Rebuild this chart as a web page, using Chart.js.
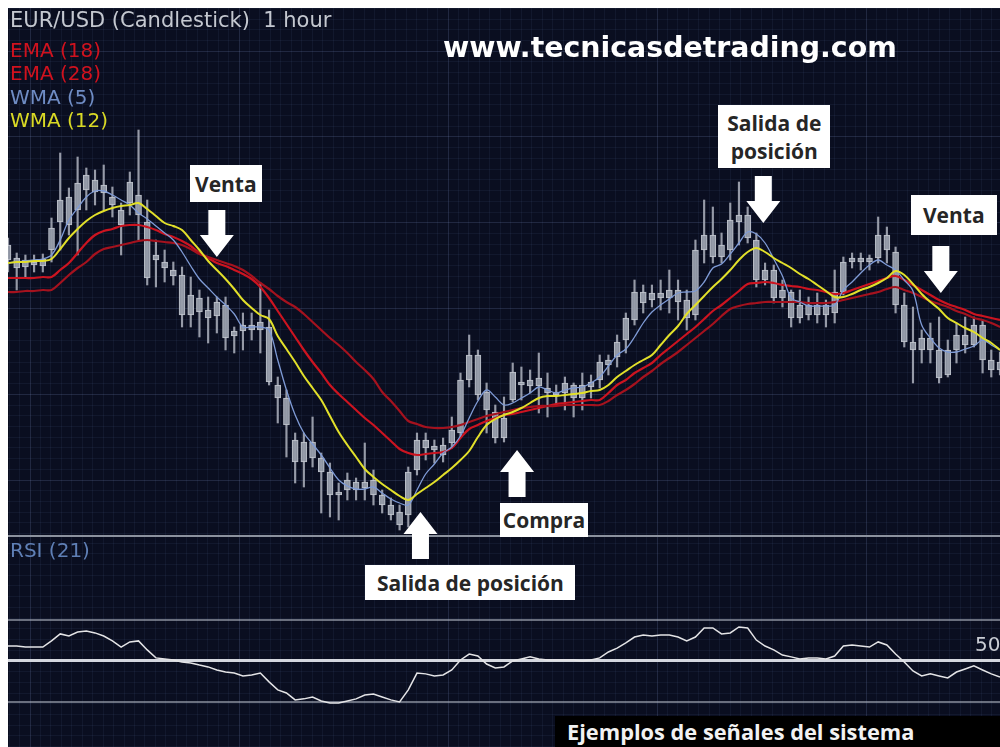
<!DOCTYPE html>
<html>
<head>
<meta charset="utf-8">
<title>EUR/USD - señales del sistema</title>
<script src="https://cdn.jsdelivr.net/npm/chart.js@4.4.1/dist/chart.umd.min.js"></script>
<style>
  html, body { margin: 0; padding: 0; background: #fff; }
  #frame { position: absolute; left: 8px; top: 8px; width: 992px; height: 739px; background: #0a0e20; overflow: hidden; }
  #frame canvas { position: absolute; left: 0; }
  #rsi { top: 527px; }
  #main { top: 0; }
  .t { position: absolute; white-space: pre; font-family: "DejaVu Sans", sans-serif; font-size: 20px; line-height: 20px; }
  #head { left: 2px; top: 2px; color: #c4c8d0; font-size: 21px; line-height: 21px; }
  #site { left: 435px; top: 26px; color: #fff; font-weight: bold; font-size: 28.4px; line-height: 28px; }
  #rsiTitle { left: 2px; top: 532px; color: #5f7fb5; }
  #lvl50 { left: 967px; top: 626px; color: #c9ccd3; }
  #caption { position: absolute; left: 547px; top: 708px; width: 445px; height: 31px; background: #000; color: #f2f2f2;
             font: 700 21.8px/31px "Open Sans", sans-serif; padding-left: 12px; box-sizing: border-box; white-space: nowrap; }
  .sig { position: absolute; background: #fff; color: #262626; font: 700 21px/28px "Open Sans", sans-serif;
         display: flex; align-items: center; justify-content: center; text-align: center; white-space: pre-line; }
</style>
</head>
<body>
<div id="frame">
  <canvas id="rsi" width="992" height="212"></canvas>
  <canvas id="main" width="992" height="739"></canvas>
  <div class="t" id="head">EUR/USD (Candlestick)  1 hour</div>
  <div class="t" id="site">www.tecnicasdetrading.com</div>
  <div class="t" id="rsiTitle">RSI (21)</div>
  <div class="t" id="lvl50">50</div>
  <div id="caption">Ejemplos de señales del sistema</div>
</div>
<script>
// velas (1 hora), precio en unidades de la escala del panel
const candleOpen = [
  275, 277, 268, 273, 269, 285, 313, 310, 325, 345,
  355, 342, 338, 325, 332, 340, 313, 280, 273, 265,
  260, 220, 237, 225, 219, 230, 199, 204, 210, 205,
  208, 150, 137, 95, 73, 93, 77, 63, 40, 45,
  53, 47, 55, 40, 30, 23, 20, 65, 95, 85,
  80, 92, 102, 155, 180, 143, 123, 97, 135, 150,
  155, 149, 147, 140, 142, 150, 137, 148, 155, 170,
  178, 195, 215, 243, 235, 242, 237, 245, 235, 220,
  285, 300, 278, 285, 313, 320, 295, 255, 265, 237,
  243, 217, 230, 220, 230, 222, 243, 273, 277, 273,
  277, 300, 283, 230, 193, 185, 197, 185, 160, 185,
  200, 190, 210, 175, 165
];
const candleHigh = [
  297, 282, 280, 280, 281, 317, 382, 347, 378, 367,
  365, 370, 348, 332, 363, 405, 335, 295, 285, 273,
  268, 258, 245, 238, 238, 238, 208, 222, 222, 252,
  225, 158, 145, 102, 102, 118, 82, 72, 52, 62,
  57, 92, 65, 45, 37, 30, 68, 102, 102, 95,
  97, 118, 162, 200, 185, 152, 130, 138, 172, 168,
  165, 182, 162, 150, 158, 152, 162, 160, 180, 180,
  200, 222, 255, 250, 250, 255, 265, 255, 245, 295,
  335, 328, 302, 332, 353, 328, 302, 272, 270, 255,
  245, 245, 238, 242, 235, 265, 278, 282, 282, 280,
  318, 308, 288, 242, 228, 205, 212, 218, 195, 212,
  218, 218, 215, 185, 183
];
const candleLow = [
  263, 245, 258, 263, 263, 273, 285, 300, 280, 325,
  330, 325, 318, 280, 320, 295, 250, 248, 253, 250,
  208, 208, 198, 192, 202, 185, 182, 185, 195, 182,
  150, 112, 78, 52, 48, 68, 22, 18, 15, 35,
  35, 35, 30, 22, 15, 5, 8, 60, 75, 72,
  73, 87, 98, 148, 135, 102, 92, 93, 133, 135,
  142, 122, 118, 130, 125, 118, 125, 137, 147, 160,
  168, 182, 210, 222, 228, 225, 222, 215, 205, 215,
  272, 272, 272, 275, 290, 292, 248, 250, 232, 228,
  208, 212, 215, 212, 208, 212, 240, 267, 265, 265,
  272, 272, 222, 188, 152, 172, 172, 152, 158, 172,
  182, 188, 162, 158, 160
];
const candleClose = [
  290, 267, 275, 270, 276, 307, 335, 338, 352, 360,
  343, 350, 330, 310, 353, 320, 257, 275, 267, 259,
  220, 240, 223, 217, 233, 197, 204, 210, 205, 213,
  153, 137, 110, 73, 93, 77, 63, 40, 43, 55,
  45, 53, 40, 30, 20, 10, 63, 95, 87, 89,
  90, 105, 155, 180, 140, 125, 97, 117, 163, 153,
  149, 157, 142, 143, 152, 137, 150, 153, 173, 175,
  193, 217, 243, 232, 242, 237, 245, 233, 217, 285,
  300, 278, 290, 315, 320, 297, 255, 265, 237, 245,
  217, 230, 220, 230, 220, 243, 273, 277, 273, 277,
  300, 285, 230, 193, 185, 197, 185, 157, 185, 200,
  190, 210, 175, 165, 173
];

// medias moviles
const ema18 = [
  257, 257, 257, 257, 258, 258, 265, 272, 282, 292,
  300, 304, 306, 309, 310, 310, 308, 305, 301, 298,
  294, 289, 282, 277, 272, 269, 265, 261, 256, 248,
  237, 224, 211, 198, 185, 173, 162, 150, 141, 133,
  125, 117, 110, 102, 94, 86, 82, 80, 81, 82,
  83, 87, 97, 106, 110, 114, 117, 120, 121, 123,
  125, 127, 129, 131, 132, 133, 134, 135, 135, 142,
  150, 155, 162, 167, 172, 180, 187, 194, 201, 208,
  216, 224, 230, 237, 244, 251, 252, 253, 252, 250,
  249, 248, 246, 245, 243, 241, 242, 245, 248, 251,
  254, 257, 259, 255, 250, 245, 240, 235, 231, 228,
  225, 221, 219, 217, 215
];
const ema28 = [
  243, 243, 244, 244, 245, 245, 252, 260, 267, 273,
  281, 286, 288, 290, 292, 294, 295, 294, 293, 292,
  290, 286, 281, 278, 275, 272, 269, 265, 259, 252,
  246, 239, 233, 228, 221, 213, 205, 197, 190, 182,
  173, 165, 156, 143, 134, 124, 114, 111, 108, 107,
  107, 108, 110, 113, 116, 119, 121, 123, 125, 127,
  128, 129, 129, 129, 130, 130, 130, 130, 130, 134,
  140, 145, 151, 158, 164, 171, 177, 183, 190, 197,
  204, 211, 219, 226, 229, 231, 232, 233, 233, 233,
  233, 233, 232, 232, 232, 233, 235, 237, 239, 241,
  243, 246, 248, 245, 242, 238, 234, 231, 228, 224,
  221, 217, 215, 212, 208
];
const wma5 = [
  272, 273, 274, 275, 276, 280, 295, 315, 327, 338,
  344, 344, 340, 335, 330, 322, 316, 309, 302, 295,
  283, 269, 256, 247, 238, 230, 221, 208, 208, 208,
  205, 175, 145, 120, 102, 91, 80, 67, 55, 49,
  46, 46, 48, 42, 36, 32, 30, 45, 61, 71,
  82, 88, 99, 117, 134, 145, 138, 130, 132, 137,
  142, 148, 145, 142, 145, 147, 148, 152, 158, 169,
  180, 186, 198, 212, 223, 230, 236, 242, 243, 244,
  253, 267, 271, 281, 292, 303, 301, 292, 276, 259,
  237, 233, 229, 229, 229, 230, 245, 253, 262, 270,
  275, 270, 265, 255, 244, 210, 197, 187, 183, 183,
  186, 189, 195, 190, 185
];
const wma12 = [
  272, 273, 273, 274, 274, 276, 286, 297, 306, 314,
  320, 324, 327, 329, 330, 332, 326, 319, 312, 309,
  305, 295, 285, 274, 265, 256, 246, 235, 227, 220,
  216, 199, 186, 173, 159, 147, 135, 119, 103, 90,
  78, 66, 58, 51, 45, 39, 35, 41, 47, 53,
  60, 67, 75, 84, 98, 110, 116, 120, 123, 127,
  132, 137, 139, 139, 140, 141, 142, 144, 145, 150,
  158, 164, 170, 175, 180, 190, 200, 209, 221, 230,
  239, 248, 256, 265, 275, 283, 287, 283, 277, 272,
  267, 261, 256, 250, 244, 238, 238, 241, 245, 248,
  252, 257, 264, 260, 251, 241, 233, 226, 217, 212,
  207, 203, 197, 192, 185
];

// RSI (21)
const rsi21 = [
  57.3, 57.3, 56.8, 56.8, 56.8, 59.8, 63.2, 62.2, 64.1, 64.6,
  63.7, 62.2, 59.8, 56.8, 59.3, 59.8, 55.4, 51.5, 51.0, 50.5,
  49.5, 49.0, 48.0, 47.1, 45.6, 44.6, 44.1, 42.7, 43.2, 44.1,
  39.8, 35.9, 34.4, 31.0, 31.5, 32.4, 30.5, 29.5, 29.5, 30.5,
  31.5, 33.4, 33.9, 32.4, 31.0, 30.0, 35.9, 44.1, 43.7, 42.7,
  43.2, 45.6, 50.5, 53.4, 52.4, 48.5, 46.6, 47.1, 50.0, 51.0,
  52.0, 51.0, 50.5, 50.5, 50.5, 50.5, 50.0, 50.5, 51.5, 54.4,
  56.3, 58.8, 61.7, 62.7, 62.2, 62.7, 62.7, 61.7, 59.8, 61.7,
  66.1, 66.1, 63.2, 63.7, 66.6, 66.1, 60.2, 57.3, 55.4, 52.9,
  52.0, 51.0, 51.5, 51.5, 51.0, 52.4, 57.3, 57.8, 57.3, 56.8,
  59.3, 57.8, 53.4, 49.5, 45.1, 42.7, 43.7, 42.7, 41.7, 44.6,
  46.1, 47.6, 45.6, 43.7, 42.2
];
const rsiLevels = [30, 50, 70];

const maNames  = ['EMA (18)', 'EMA (28)', 'WMA (5)', 'WMA (12)'];
const maSeries = [ema18, ema28, wma5, wma12];
const maColors = ['#cc1420', '#a5121e', '#7f9bd6', '#e2e02a'];
const maLegendColors = ['#d0121e', '#d0121e', '#6f8cc4', '#d9d925'];
const maWidths = [2.2, 2.2, 1.3, 2];

// señales: vela, precio de la punta de la flecha, sentido
const signalText  = ['Venta', 'Salida de\nposición', 'Venta', 'Compra', 'Salida de posición'];
const signalIndex = [24.0, 86.8, 107.2, 58.5, 47.4];
const signalPrice = [278, 312, 242, 85, 23];
const signalDir   = ['down', 'down', 'down', 'up', 'up'];
const signalBox   = [[72, 37], [112, 63], [86, 40], [88, 34], [210, 35]];
const signalShift = [9, 11, 13, 27, 50];
const signalGap   = [8, 8, 11, 6, 6];

const N = candleOpen.length;
const idx = candleOpen.map((_, i) => i);
const pts = arr => arr.map((v, i) => ({ x: i, y: v }));

const frame = document.getElementById('frame');

// leyenda
maNames.forEach((name, k) => {
  const d = document.createElement('div');
  d.className = 't';
  d.textContent = name;
  d.style.left = '2px';
  d.style.top = (32 + k * 23.3) + 'px';
  d.style.color = maLegendColors[k];
  frame.appendChild(d);
});

// etiquetas de las señales
const signalEls = signalText.map((txt, k) => {
  const d = document.createElement('div');
  d.className = 'sig';
  d.textContent = txt;
  d.style.width = signalBox[k][0] + 'px';
  d.style.height = signalBox[k][1] + 'px';
  frame.appendChild(d);
  return d;
});

// rejilla
function gridTicks(lo, hi, anchor, step) {
  const out = [];
  let v = anchor - Math.floor((anchor - lo) / step) * step;
  for (; v <= hi + 1e-6; v += step) out.push({ value: +v.toFixed(4) });
  return out;
}
const GX_STEP = 1.201, GX_ANCHOR = 50.57, GX_MAJOR = 20;
const GY_STEP = 10.72, GY_ANCHOR = 398, GY_MAJOR = 8;
const minorCol = 'rgba(95,110,155,0.11)';
const majorCol = 'rgba(120,135,180,0.22)';
const isMajor = (v, anchor, step, every) => Math.round((v - anchor) / step) % every === 0;

const xGrid = {
  type: 'linear', min: 0, max: N - 1, offset: false,
  ticks: { display: false },
  border: { display: false },
  grid: {
    offset: false, drawTicks: false,
    color: c => isMajor(c.tick.value, GX_ANCHOR, GX_STEP, GX_MAJOR) ? majorCol : minorCol
  },
  afterBuildTicks: ax => { ax.ticks = gridTicks(0, N - 1, GX_ANCHOR, GX_STEP); }
};

// flechas de las señales
const signalPlugin = {
  id: 'signals',
  afterDraw(chart) {
    const { ctx, scales: { x, y } } = chart;
    const L = 47, HL = 22, HW = 17, SW = 8.5;
    ctx.save();
    ctx.fillStyle = '#ffffff';
    signalIndex.forEach((si, k) => {
      const px = x.getPixelForValue(si);
      const py = y.getPixelForValue(signalPrice[k]);
      const s = signalDir[k] === 'down' ? -1 : 1;
      ctx.beginPath();
      ctx.moveTo(px, py);
      ctx.lineTo(px - HW, py + s * HL);
      ctx.lineTo(px - SW, py + s * HL);
      ctx.lineTo(px - SW, py + s * L);
      ctx.lineTo(px + SW, py + s * L);
      ctx.lineTo(px + SW, py + s * HL);
      ctx.lineTo(px + HW, py + s * HL);
      ctx.closePath();
      ctx.fill();
      const [w, h] = signalBox[k];
      const el = signalEls[k];
      el.style.left = (px + signalShift[k] - w / 2) + 'px';
      el.style.top = (s < 0 ? py - L - signalGap[k] - h : py + L + signalGap[k]) + 'px';
    });
    ctx.restore();
  }
};

new Chart(document.getElementById('main'), {
  type: 'bar',
  data: {
    datasets: [
      {
        label: 'mecha',
        data: idx.map(i => ({ x: i, y: [candleLow[i], candleHigh[i]] })),
        backgroundColor: 'rgba(165,170,182,0.9)',
        barThickness: 1.5, grouped: false, order: 10
      },
      {
        label: 'cuerpo',
        data: idx.map(i => ({ x: i, y: [candleOpen[i], candleClose[i]] })),
        backgroundColor: 'rgba(150,156,170,0.9)',
        borderColor: 'rgba(205,209,217,0.9)', borderWidth: 1, borderSkipped: false,
        barThickness: 6, grouped: false, order: 9
      },
      ...maSeries.map((s, k) => ({
        type: 'line', label: maNames[k], data: pts(s),
        borderColor: maColors[k], borderWidth: maWidths[k],
        pointRadius: 0, tension: 0.35, order: 4 - k
      }))
    ]
  },
  options: {
    responsive: false, animation: false, events: [],
    layout: { padding: { bottom: 212 } },
    plugins: { legend: { display: false }, tooltip: { enabled: false } },
    scales: {
      x: xGrid,
      y: {
        min: 0, max: 527,
        ticks: { display: false },
        border: { display: false },
        grid: {
          drawTicks: false,
          color: c => isMajor(c.tick.value, GY_ANCHOR, GY_STEP, GY_MAJOR) ? majorCol : minorCol
        },
        afterBuildTicks: ax => { ax.ticks = gridTicks(0, 527, GY_ANCHOR, GY_STEP); }
      }
    }
  },
  plugins: [signalPlugin]
});

// panel RSI
const RSI_MIN = 8, RSI_MAX = 111.5, RSI_STEP = 5.23;
new Chart(document.getElementById('rsi'), {
  type: 'line',
  data: {
    datasets: [{
      label: 'RSI (21)', data: pts(rsi21),
      borderColor: '#e4e4e6', borderWidth: 1.5, pointRadius: 0, tension: 0
    }]
  },
  options: {
    responsive: false, animation: false, events: [],
    plugins: { legend: { display: false }, tooltip: { enabled: false } },
    scales: {
      x: xGrid,
      y: {
        min: RSI_MIN, max: RSI_MAX,
        ticks: { display: false },
        border: { display: false },
        grid: {
          drawTicks: false,
          color: c => {
            const v = c.tick.value;
            if (v === RSI_MAX) return '#8c929e';
            if (v === 50) return '#d4d7de';
            if (rsiLevels.includes(v)) return 'rgba(170,176,190,0.6)';
            return minorCol;
          },
          lineWidth: c => {
            const v = c.tick.value;
            if (v === RSI_MAX) return 3;
            if (v === 50) return 3;
            if (rsiLevels.includes(v)) return 2;
            return 1;
          }
        },
        afterBuildTicks: ax => {
          const t = gridTicks(RSI_MIN, RSI_MAX - 2, 50, RSI_STEP).filter(o => Math.abs(o.value - 50) > 0.01);
          rsiLevels.forEach(v => t.push({ value: v }));
          t.push({ value: RSI_MAX });
          ax.ticks = t.sort((a, b) => a.value - b.value);
        }
      }
    }
  }
});
</script>
</body>
</html>
